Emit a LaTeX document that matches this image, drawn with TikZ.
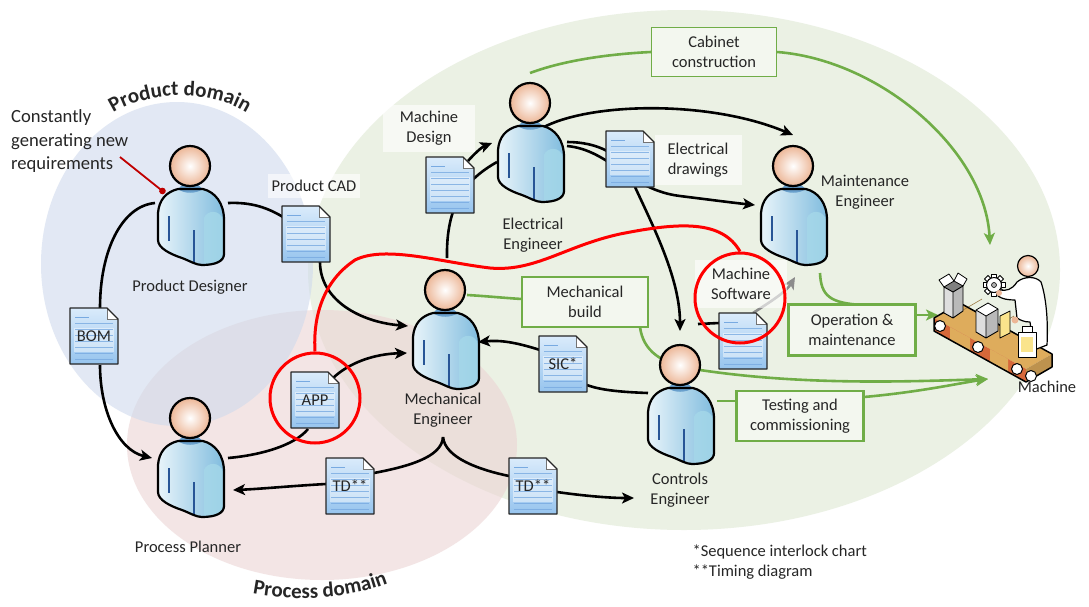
\documentclass[tikz,border=0pt]{standalone}
\usepackage{fontspec}
\setmainfont{Carlito}
\usetikzlibrary{arrows.meta,decorations.text}
\pgfdeclarelayer{domains}
\pgfdeclarelayer{links}
\pgfsetlayers{domains,links,main}

\definecolor{domblue}{RGB}{207,218,237}
\definecolor{dompink}{RGB}{235,212,212}
\definecolor{domgreen}{RGB}{235,241,228}
\definecolor{taskgreen}{RGB}{112,173,71}
\definecolor{taskfill}{RGB}{243,247,239}
\definecolor{skin}{RGB}{236,182,150}
\definecolor{shirtlight}{RGB}{232,244,250}
\definecolor{shirtdark}{RGB}{128,188,222}
\definecolor{shirtarm}{RGB}{165,216,233}
\definecolor{shirtseam}{RGB}{40,85,150}
\definecolor{collar}{RGB}{105,160,205}
\definecolor{pagetop}{RGB}{218,235,251}
\definecolor{pagebottom}{RGB}{150,196,238}
\definecolor{pageline}{RGB}{120,170,225}
\definecolor{ringred}{RGB}{255,0,0}
\definecolor{notered}{RGB}{192,0,0}
\definecolor{labelgrey}{RGB}{38,38,38}
\definecolor{belttop}{RGB}{222,172,92}
\definecolor{beltside}{RGB}{214,104,58}
\definecolor{boxgrey}{RGB}{222,222,222}
\definecolor{boxdark}{RGB}{185,185,185}
\definecolor{paperyellow}{RGB}{250,228,140}

% outline of a person's torso, relative to the head centre
\newcommand\bodyoutline{(-12,21) .. controls (-24,24) and (-31,32) .. (-32,45) -- (-32,72)
  .. controls (-32,80) and (-20,86) .. (-8,90) .. controls (0,93) and (6,97) .. (12,97)
  .. controls (26,97) and (34,93) .. (34,86) -- (34,52)
  .. controls (34,35) and (25,24) .. (13,21) -- cycle}

% person icon: name, x, y of the icon centre
\newcommand\personicon[3]{%
  \begin{scope}[shift={(#2,#3)}, shift={(0,-38)}]
    \shade[left color=shirtlight, right color=shirtdark] \bodyoutline;
    \fill[shirtarm, opacity=0.8] (14,50) .. controls (17,42) and (30,41) .. (33,52) -- (33,86)
      .. controls (33,92) and (26,96) .. (14,95) -- cycle;
    \fill[collar] (-12,21) .. controls (-6,26) and (6,26) .. (13,21) -- (8,17) -- (-8,17) -- cycle;
    \draw[shirtseam, line width=1.6pt] (-21,48) -- (-21,73);
    \draw[shirtseam, line width=1.6pt] (4,62) -- (4,94);
    \draw[line width=2.2pt, line join=round] \bodyoutline;
    \shade[inner color=white, outer color=skin] (0,-2) circle (20);
    \draw[line width=2.2pt] (0,-2) circle (20);
  \end{scope}
  \node[who] (#1) at (#2,#3) {};}

% document icon: name, x, y of the centre, caption
\newcommand\pageicon[4]{%
  \begin{scope}[shift={(#2,#3)}]
    \shade[top color=pagetop, bottom color=pagebottom]
      (-24,-28) -- (13,-28) -- (24,-17) -- (24,28) -- (-24,28) -- cycle;
    \fill[white, opacity=0.45] (-20,-8) rectangle (20,16);
    \foreach \r in {-13,-7,...,23} \draw[pageline, line width=0.6pt, opacity=0.8] (-19,\r) -- (19,\r);
    \draw[pageline, line width=0.8pt] (-19,-19) -- (-5,-19);
    \fill[white] (13,-28) -- (13,-17) -- (24,-17) -- cycle;
    \draw[black!55, line width=0.6pt] (13,-28) -- (13,-17) -- (24,-17);
    \draw[black!85, line width=1.3pt, line join=round]
      (-24,-28) -- (13,-28) -- (24,-17) -- (24,28) -- (-24,28) -- cycle;
  \end{scope}
  \node[pagenode] (#1) at (#2,#3) {\raisebox{-3pt}{#4}};}

\tikzset{
  every node/.style={font=\fontsize{16.5}{20}\selectfont, text=labelgrey},
  who/.style={minimum width=66pt, minimum height=118pt, inner sep=0pt},
  pagenode/.style={minimum width=48pt, minimum height=57pt, inner sep=0pt},
  flow/.style={line width=2.6pt, draw=black, -{Stealth[length=12pt,width=11pt,inset=3pt]}},
  link/.style={line width=2.6pt, draw=black},
  gflow/.style={line width=2.6pt, draw=taskgreen, -{Stealth[length=12pt,width=11pt,inset=3pt]}},
  glink/.style={line width=2.6pt, draw=taskgreen},
  task/.style={draw=taskgreen, line width=2.2pt, fill=taskfill, align=center, inner sep=0pt},
  tag/.style={fill=white, fill opacity=0.6, text opacity=1, align=center, inner sep=0pt},
  ring/.style={circle, draw=ringred, line width=3pt, minimum size=90pt, inner sep=0pt},
  noteline/.style={anchor=base west, inner sep=0pt, font=\fontsize{18.6}{23.5}\selectfont},
  domaintext/.style={decorate, decoration={text along path, text align=center, text color=labelgrey,
     text={|\fontsize{21}{21}\bfseries\selectfont|#1}}},
}

\begin{document}
\begin{tikzpicture}[x=1pt, y=-1pt]
\path[use as bounding box] (0,0) rectangle (1089,606);

% domains
\begin{pgfonlayer}{domains}
  \fill[white] (0,0) rectangle (1089,606);
  \fill[domgreen] (684,270) ellipse [x radius=376, y radius=260];
  \fill[dompink, fill opacity=0.6] (322,445) ellipse [x radius=195, y radius=135];
  \fill[domblue, fill opacity=0.6] (177,264) ellipse [x radius=136, y radius=162];
\end{pgfonlayer}

% people
\personicon{pd}{190}{206}
\personicon{pp}{190}{458}
\personicon{me}{445}{330}
\personicon{ee}{530}{143}
\personicon{mte}{793}{206}
\personicon{ce}{680}{405}

% documents
\pageicon{bom}{94}{336}{BOM}
\pageicon{cad}{306}{234}{}
\pageicon{mdoc}{450}{185}{}
\pageicon{edoc}{630}{159}{}
\pageicon{app}{315}{400}{APP}
\pageicon{sic}{563}{364}{SIC*}
\pageicon{tdl}{350}{486}{TD**}
\pageicon{tdr}{533}{486}{TD**}
\pageicon{msw}{743}{341}{}

% machine: conveyor belt with boxes and an operator
\node[minimum width=115pt, minimum height=130pt, inner sep=0pt] (mach) at (990,318) {};
\begin{scope}[line join=round]
  \fill[belttop] (934,318) -- (960,303) -- (1052,354) -- (1026,369) -- cycle;
  \fill[beltside] (934,318) -- (1026,369) -- (1026,382) -- (934,331) -- cycle;
  \fill[belttop] (950,327) -- (970,338) -- (970,351) -- (950,340) -- cycle;
  \fill[belttop] (990,349) -- (1008,359) -- (1008,372) -- (990,362) -- cycle;
  \draw[belttop!70!black, line width=0.6pt] (958,313) -- (982,299) (990,330) -- (1014,316);
  \fill[belttop!85!black] (1026,369) -- (1052,354) -- (1052,367) -- (1026,382) -- cycle;
  \draw[line width=1.5pt] (934,318) -- (960,303) -- (1052,354) -- (1052,367) -- (1026,382) -- (934,331) -- cycle;
  \foreach \p in {(940,326),(978,347),(1017,369),(1031,376)}
    \draw[fill=white, line width=1pt] \p circle (5.5);
  % left box with open flaps
  \fill[boxgrey] (944,287) -- (953,292) -- (953,318) -- (944,313) -- cycle;
  \fill[boxdark] (953,292) -- (963,286) -- (963,311) -- (953,318) -- cycle;
  \fill[gray] (944,287) -- (954,281) -- (963,286) -- (953,292) -- cycle;
  \draw[fill=white, line width=0.8pt] (944,287) -- (939,280) -- (949,274) -- (954,281) -- cycle;
  \draw[fill=white, line width=0.8pt] (954,281) -- (958,273) -- (967,279) -- (963,286) -- cycle;
  \draw[line width=0.9pt] (944,287) -- (953,292) -- (963,286) (953,292) -- (953,318) -- (944,313) -- (944,287) (963,286) -- (963,311) -- (953,318);
  % middle box
  \fill[boxgrey] (976,310) -- (986,316) -- (986,338) -- (976,332) -- cycle;
  \fill[boxdark] (986,316) -- (998,309) -- (998,331) -- (986,338) -- cycle;
  \draw[fill=white, line width=0.8pt] (976,310) -- (988,303) -- (998,309) -- (986,316) -- cycle;
  \draw[line width=0.9pt] (976,310) -- (976,332) -- (986,338) -- (998,331) -- (998,309) (986,316) -- (986,338);
  % sheet of paper
  \draw[fill=paperyellow, line width=0.8pt] (1000,316) -- (1010,311) -- (1010,333) -- (1000,338) -- cycle;
  % gear
  \foreach \a in {0,45,...,315}
    \draw[fill=white, line width=0.8pt, rotate around={\a:(994,285)}] (991.5,274) rectangle (996.5,278);
  \draw[fill=white, line width=1pt] (994,285) circle (7.5);
  \draw[fill=gray!60, line width=0.6pt] (994,285) circle (2.5);
  % operator
  \draw[fill=white, line width=1.2pt] (1017,282) .. controls (1024,276) and (1036,276) .. (1041,282)
     .. controls (1047,300) and (1048,325) .. (1047,345) -- (1034,350) -- (1030,322)
     .. controls (1024,322) and (1020,320) .. (1017,318) -- (1015,300)
     .. controls (1008,300) and (1002,299) .. (998,296) -- (1000,290)
     .. controls (1006,291) and (1012,290) .. (1017,282) -- cycle;
  \fill[skin] (1015,320) circle (3.5);
  \fill[skin] (999,293) circle (3);
  \shade[inner color=white, outer color=skin] (1028,266) circle (10.5);
  \draw[line width=1.2pt] (1028,266) circle (10.5);
  % jar
  \draw[fill=white, line width=1pt] (1022,326) rectangle (1032,332);
  \draw[fill=white, line width=1pt] (1018,332) rectangle (1036,357);
  \fill[paperyellow] (1021,337) rectangle (1033,352);
\end{scope}

% labels under people
\node at (190,287) {Product Designer};
\node at (188,547) {Process Planner};
\node[align=center] at (443,410) {Mechanical\\Engineer};
\node[align=center] at (533,235) {Electrical\\Engineer};
\node[align=center] at (865,192) {Maintenance\\Engineer};
\node[align=center] at (680,490) {Controls\\Engineer};
\node at (1047,387) {Machine};

% document captions
\node[tag, minimum width=92pt, minimum height=24pt] (cadtag) at (314,186) {Product CAD};
\node[tag, minimum width=92pt, minimum height=47pt] (mdoctag) at (429,128) {Machine\\Design};
\node[tag, minimum width=87pt, minimum height=50pt] (edoctag) at (698,160) {Electrical\\drawings};
\node[tag, minimum width=92pt, minimum height=48pt] (mswtag) at (741,284) {Machine\\Software};

% activities
\node[task, line width=1.3pt, minimum width=125pt, minimum height=49pt] (cab) at (714,52) {Cabinet\\construction};
\node[task, minimum width=126pt, minimum height=50pt] (mb) at (585,302) {Mechanical\\build};
\node[task, minimum width=127pt, minimum height=51pt] (om) at (852,330) {Operation \&\\maintenance};
\node[task, minimum width=127pt, minimum height=50pt] (tc) at (800,416) {Testing and\\commissioning};

% note
\node[noteline] (note1) at (11,122.5) {Constantly};
\node[noteline] (note2) at (11,146) {generating new};
\node[noteline] (note3) at (11,169.5) {requirements};
\coordinate (notetip) at (120,157);
\draw[notered, line width=1.8pt, -{Circle[length=6.5pt]}] (notetip) -- ([shift={(-25,-13)}]pd.center);

% footnotes
\node[anchor=west] (fn1) at (689,552) {*Sequence interlock chart};
\node[anchor=west] (fn2) at (689,572) {**Timing diagram};

% connectors
\begin{pgfonlayer}{links}
  % information flow
  \draw[link] ([shift={(38,-3)}]pd.center) .. controls (252,202) and (268,208) .. ([shift={(-23,-17)}]cad.center);
  \draw[flow] ([shift={(14,28)}]cad.center) .. controls (320,300) and (360,322) .. ([shift={(-37,-4)}]me.center);
  \draw[link] ([shift={(-35,-3)}]pd.center) .. controls (122,206) and (100,250) .. ([shift={(6,-28)}]bom.center);
  \draw[flow] ([shift={(6,29)}]bom.center) .. controls (100,410) and (118,450) .. ([shift={(-38,0)}]pp.center);
  \draw[link] ([shift={(38,0)}]pp.center) .. controls (262,455) and (295,445) .. ([shift={(-7,29)}]app.center);
  \draw[flow] ([shift={(18,-22)}]app.center) .. controls (350,362) and (375,354) .. ([shift={(-38,23)}]me.center);
  \coordinate (split) at ([shift={(-2,107)}]me.center);
  \draw[link] (split) .. controls (442,458) and (405,467) .. ([shift={(24,-13)}]tdl.center);
  \draw[flow] ([shift={(-24,-2)}]tdl.center) .. controls (290,486) and (260,489) .. ([shift={(43,32)}]pp.center);
  \draw[link] (split) .. controls (445,458) and (480,470) .. ([shift={(-24,-10)}]tdr.center);
  \draw[flow] ([shift={(24,6)}]tdr.center) .. controls (585,496) and (610,498) .. ([shift={(-46,93)}]ce.center);
  \draw[link] ([shift={(2,-72)}]me.center) .. controls (446,205) and (465,180) .. ([shift={(-33,19)}]ee.center);
  \draw[flow] ([shift={(18,-24)}]mdoc.center) .. controls (475,153) and (482,147) .. ([shift={(-38,0)}]ee.center);
  \draw[flow] ([shift={(12,-15)}]ee.center) .. controls (590,102) and (710,100) .. ([shift={(0,-71)}]mte.center);
  \draw[link] ([shift={(37,-1)}]ee.center) .. controls (582,142) and (596,145) .. ([shift={(-23,-8)}]edoc.center);
  \draw[flow] ([shift={(37,3)}]ee.center) .. controls (610,150) and (630,190) .. (680,196)
     .. controls (712,200) and (735,203) .. ([shift={(-38,-1)}]mte.center);
  \draw[flow] ([shift={(5,28)}]edoc.center) .. controls (655,230) and (680,280) .. ([shift={(0,-74)}]ce.center);
  \draw[link] ([shift={(-32,-12)}]ce.center) .. controls (620,392) and (600,390) .. ([shift={(24,21)}]sic.center);
  \draw[flow] ([shift={(-23,-14)}]sic.center) .. controls (515,342) and (500,340) .. ([shift={(33,12)}]me.center);
  \draw[link] ([shift={(18,-81)}]ce.center) -- ([shift={(-24,-18)}]msw.center);
  \draw[flow, draw=black!45] ([shift={(10,-28)}]msw.center) .. controls (770,302) and (786,292) .. ([shift={(2,71)}]mte.center);
  % activities feeding the machine
  \draw[glink] ([shift={(0,-70)}]ee.center) .. controls (565,60) and (610,54) .. (cab.west);
  \draw[gflow] (cab.east) .. controls (880,60) and (985,150) .. ([shift={(0,-73)}]mach.center);
  \draw[glink] ([shift={(22,-35)}]me.center) .. controls (485,296) and (505,298) .. ([shift={(-63,-3)}]mb.center);
  \draw[gflow] ([shift={(55,25)}]mb.center) .. controls (643,350) and (660,365) .. (700,370)
     .. controls (800,385) and (900,382) .. ([shift={(-2,61)}]mach.center);
  \draw[glink] ([shift={(37,-4)}]ce.center) -- ([shift={(-63,-15)}]tc.center);
  \draw[gflow] ([shift={(64,-19)}]tc.center) .. controls (920,392) and (960,383) .. ([shift={(-2,61)}]mach.center);
  \draw[glink] ([shift={(27,67)}]mte.center) .. controls (821,296) and (830,303) .. ([shift={(10,-25)}]om.center);
  \draw[gflow] ([shift={(64,-15)}]om.center) -- ([shift={(-52,-3)}]mach.center);
\end{pgfonlayer}

% highlighted artefacts
\node[ring] (ring1) at (315,398) {};
\node[ring] (ring2) at (740,298) {};
\draw[ringred, line width=3pt] (ring1.north) .. controls (313,318) and (322,282) .. (355,260)
   .. controls (385,245) and (440,262) .. (490,268) .. controls (535,272) and (565,246) .. (620,234)
   .. controls (680,222) and (722,220) .. (ring2.north);

% domain titles
\path[domaintext={Product domain}]
  (105,119) .. controls (143,88) and (217,88) .. (255,119);
\path[domaintext={Process domain}]
  (244,592) .. controls (290,603) and (352,600) .. (396,580);
\end{tikzpicture}
\end{document}
